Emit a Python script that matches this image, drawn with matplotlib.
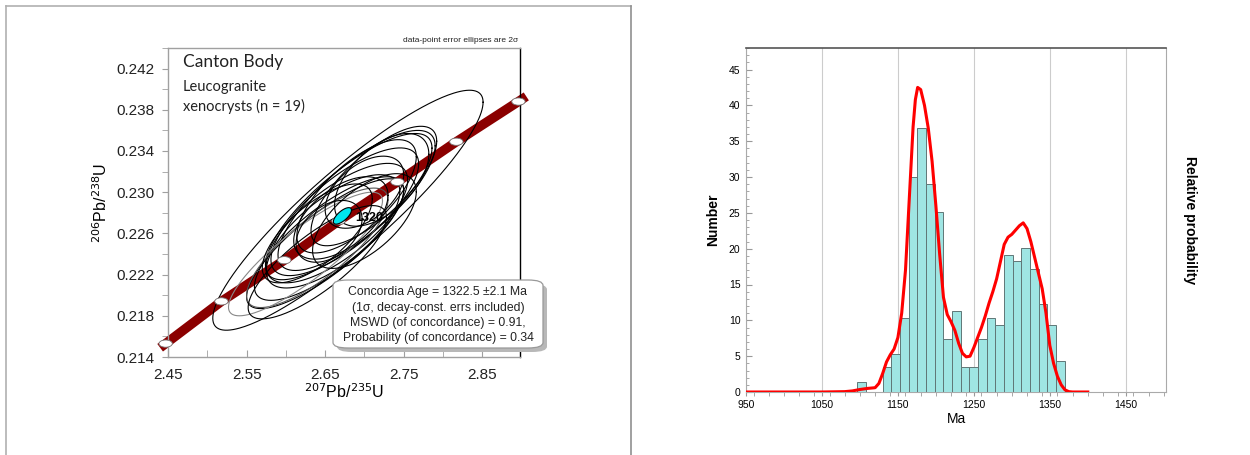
import numpy as np
import matplotlib
matplotlib.use("Agg")
import matplotlib.pyplot as plt
from matplotlib.patches import FancyBboxPatch, Ellipse
from matplotlib.ticker import MultipleLocator

# ---------------- data: concordia panel ----------------
conc_ages = [1260, 1280, 1300, 1320, 1340, 1360, 1380]
conc_x = [2.447, 2.518, 2.598, 2.667, 2.742, 2.817, 2.896]
conc_y = [0.2153, 0.2194, 0.2234, 0.2272, 0.2310, 0.2349, 0.2388]
band_x = [2.440, 2.447, 2.518, 2.598, 2.667, 2.742, 2.817, 2.896, 2.906]
band_y = [0.2149, 0.2153, 0.2194, 0.2234, 0.2272, 0.2310, 0.2349, 0.2388, 0.2393]

# error ellipses: centre x, centre y, 2-sigma half-extent x, y, correlation
ell_cx = [2.679, 2.690, 2.680, 2.675, 2.665, 2.660, 2.655, 2.650, 2.640, 2.625,
          2.670, 2.655, 2.700, 2.722, 2.690, 2.700, 2.640, 2.640, 2.712]
ell_cy = [0.22825, 0.2292, 0.2286, 0.2281, 0.2270, 0.2262, 0.2255, 0.2250, 0.2246, 0.2240,
          0.2275, 0.2262, 0.2300, 0.2312, 0.2296, 0.2272, 0.2260, 0.2232, 0.2306]
ell_sx = [0.172, 0.100, 0.106, 0.094, 0.090, 0.085, 0.095, 0.100, 0.090, 0.098,
          0.060, 0.042, 0.050, 0.060, 0.076, 0.066, 0.070, 0.088, 0.080]
ell_sy = [0.01165, 0.0068, 0.0071, 0.0062, 0.0058, 0.0055, 0.0060, 0.0063, 0.0058, 0.0060,
          0.0040, 0.0030, 0.0035, 0.0045, 0.0055, 0.0046, 0.0048, 0.0055, 0.0058]
ell_rho = [0.90, 0.78, 0.80, 0.75, 0.72, 0.70, 0.78, 0.82, 0.80, 0.86,
           0.55, 0.40, 0.48, 0.55, 0.70, 0.62, 0.70, 0.80, 0.75]
ell_color = ["black"] * 8 + ["#555555", "#888888"] + ["black"] * 9

mean_x, mean_y, mean_sx, mean_sy, mean_rho = 2.672, 0.2277, 0.0115, 0.00080, 0.70
mean_label = "1320"

# ---------------- data: histogram panel ----------------
bin_left = [1096.5, 1130.0, 1141.4, 1152.8, 1164.2, 1175.6, 1187.0, 1198.4, 1209.8,
            1221.2, 1232.6, 1244.0, 1255.4, 1266.8, 1278.2, 1289.6, 1301.0, 1312.4,
            1323.8, 1335.2, 1346.6, 1358.0]
bin_count = [1.4, 3.45, 5.35, 10.3, 30.0, 36.9, 29.0, 25.1, 7.35, 11.3, 3.45, 3.45,
             7.35, 10.3, 9.3, 19.1, 18.3, 20.1, 17.2, 12.3, 9.3, 4.3]
bin_width = 11.4

pdf_age = [950, 1000, 1050, 1080, 1090, 1100, 1110, 1120, 1125, 1130, 1135, 1140, 1145,
           1150, 1155, 1160, 1165, 1170, 1173, 1176, 1180, 1185, 1190, 1195, 1200,
           1205, 1210, 1215, 1220, 1225, 1230, 1235, 1240, 1245, 1250, 1255, 1260,
           1265, 1270, 1275, 1280, 1285, 1290, 1295, 1300, 1305, 1310, 1315, 1320,
           1325, 1330, 1335, 1340, 1345, 1350, 1355, 1360, 1365, 1370, 1375, 1380,
           1390, 1400]
pdf_val = [0.0, 0.0, 0.0, 0.05, 0.15, 0.35, 0.5, 0.6, 1.2, 2.6, 4.2, 5.2, 6.0,
           7.6, 11.0, 17.0, 27.0, 37.0, 40.8, 42.5, 42.2, 40.0, 36.8, 32.2, 26.0,
           19.2, 13.2, 10.8, 9.8, 8.6, 6.8, 5.4, 4.9, 5.0, 6.2, 7.6, 9.0,
           10.6, 12.4, 14.0, 15.8, 18.2, 20.6, 21.6, 22.0, 22.6, 23.2, 23.6, 22.8,
           21.0, 18.8, 16.6, 14.4, 11.0, 6.5, 4.0, 2.2, 1.0, 0.3, 0.05, 0.0,
           0.0, 0.0]

W, H = 1250, 455
fig = plt.figure(figsize=(W / 100, H / 100), dpi=100)
plt.rcParams['font.family'] = ['Liberation Sans', 'DejaVu Sans']

def fx(px):
    return px / W

def fy(py):
    return 1 - py / H

# left panel frame
fig.add_artist(plt.Line2D([fx(6), fx(631)], [fy(5.5), fy(5.5)], color="#b0b0b0", lw=1.2))
fig.add_artist(plt.Line2D([fx(6), fx(6)], [fy(5.5), fy(456)], color="#b0b0b0", lw=1.2))
fig.add_artist(plt.Line2D([fx(631), fx(631)], [fy(5.5), fy(456)], color="#909090", lw=1.2))

# ---------------- concordia axes ----------------
ax1 = fig.add_axes([fx(168), fy(357), fx(520) - fx(168), fy(48) - fy(357)])
ax1.set_xlim(2.45, 2.898)
ax1.set_ylim(0.214, 0.244)
for s in ["left", "bottom", "top"]:
    ax1.spines[s].set_color("#a0a0a0")
ax1.spines["right"].set_color("black")
for s in ax1.spines.values():
    s.set_linewidth(1.0)
ax1.set_xticks([2.45, 2.55, 2.65, 2.75, 2.85])
ax1.set_xticklabels(["2.45", "2.55", "2.65", "2.75", "2.85"])
ax1.xaxis.set_minor_locator(MultipleLocator(0.05))
ax1.set_yticks([0.214, 0.218, 0.222, 0.226, 0.230, 0.234, 0.238, 0.242])
ax1.set_yticklabels(["0.214", "0.218", "0.222", "0.226", "0.230", "0.234", "0.238", "0.242"])
ax1.yaxis.set_minor_locator(MultipleLocator(0.002))
ax1.tick_params(axis="both", which="both", direction="in", color="#a0a0a0", labelsize=11,
                labelcolor="#222222")
ax1.tick_params(axis="x", which="both", length=5, pad=8)
ax1.tick_params(axis="y", which="both", direction="out", length=4, pad=6)

# concordia band
ax1.plot(band_x, band_y, color="#8b0000", lw=6.8, solid_capstyle="butt", clip_on=False, zorder=2)

# error ellipses
t = np.linspace(0, 2 * np.pi, 300)
for cx, cy, sx, sy, r, c in zip(ell_cx, ell_cy, ell_sx, ell_sy, ell_rho, ell_color):
    ex = cx + sx * np.cos(t)
    ey = cy + sy * (r * np.cos(t) + np.sqrt(1 - r * r) * np.sin(t))
    ax1.plot(ex, ey, color=c, lw=0.8, zorder=3)

# age markers on concordia
for x, y in zip(conc_x, conc_y):
    ax1.add_patch(Ellipse((x, y), width=0.017, height=0.0007, facecolor="white",
                          edgecolor="#777777", lw=0.6, zorder=4, clip_on=False))

# mean concordia ellipse
mx = mean_x + mean_sx * np.cos(t)
my = mean_y + mean_sy * (mean_rho * np.cos(t) + np.sqrt(1 - mean_rho ** 2) * np.sin(t))
ax1.fill(mx, my, facecolor="#00e5ee", edgecolor="black", lw=0.8, zorder=5)
ax1.text(mean_x + 0.016, mean_y - 0.0002, mean_label, fontsize=9, fontweight="bold",
         va="center", ha="left", zorder=6)

ax1.set_xlabel("$^{207}$Pb/$^{235}$U", fontsize=11.5, labelpad=0)
ax1.set_ylabel("$^{206}$Pb/$^{238}$U", fontsize=11.5, labelpad=4)

fig.text(fx(518), fy(40), "data-point error ellipses are 2σ", fontsize=6, ha="right",
         va="center", color="#222222")
fig.text(fx(183), fy(62), "Canton Body", fontsize=12.5, family=["Lato", "DejaVu Sans"],
         ha="left", va="center", color="#222222")
fig.text(fx(183), fy(87), "Leucogranite", fontsize=10.5, family=["Lato", "DejaVu Sans"],
         ha="left", va="center", color="#222222")
fig.text(fx(183), fy(106), "xenocrysts (n = 19)", fontsize=10.5, family=["Lato", "DejaVu Sans"],
         ha="left", va="center", color="#222222")

# concordia age box with shadow
shadow = FancyBboxPatch((fx(337), fy(352)), fx(543) - fx(333), fy(280) - fy(348),
                        boxstyle="round,pad=0,rounding_size=0.012", transform=fig.transFigure,
                        facecolor="#b8b8b8", edgecolor="none", zorder=5)
fig.add_artist(shadow)
box = FancyBboxPatch((fx(333), fy(348)), fx(543) - fx(333), fy(280) - fy(348),
                     boxstyle="round,pad=0,rounding_size=0.012", transform=fig.transFigure,
                     facecolor="white", edgecolor="#999999", lw=0.9, zorder=6)
fig.add_artist(box)
box_lines = ["Concordia Age = 1322.5 ±2.1 Ma", "(1σ, decay-const. errs included)",
             "MSWD (of concordance) = 0.91,", "Probability (of concordance) = 0.34"]
for i, ln in enumerate(box_lines):
    fig.text(fx(438), fy(292 + 15.5 * i), ln, fontsize=8.8, ha="center", va="center",
             color="#222222", zorder=7)

# ---------------- histogram axes ----------------
ax2 = fig.add_axes([fx(746), fy(392), fx(1166) - fx(746), fy(48) - fy(392)])
ax2.set_xlim(950, 1503)
ax2.set_ylim(0, 48)
ax2.bar(bin_left, bin_count, width=bin_width, align="edge", facecolor="#9fe5e3",
        edgecolor="#5f7777", lw=0.7, zorder=3)
ax2.set_xticks([950, 1050, 1150, 1250, 1350, 1450])
ax2.xaxis.set_minor_locator(MultipleLocator(20))
ax2.set_yticks([0, 5, 10, 15, 20, 25, 30, 35, 40, 45])
ax2.yaxis.set_minor_locator(MultipleLocator(1))
ax2.grid(axis="x", which="major", color="#cccccc", lw=0.8, zorder=0)
ax2.tick_params(axis="x", which="both", direction="out", length=3, color="#999999",
                labelsize=7.5, pad=3)
ax2.tick_params(axis="y", which="major", direction="in", length=4, color="#999999",
                labelsize=7.5, pad=4)
ax2.tick_params(axis="y", which="minor", direction="in", length=2, color="#999999")
for s in ["left", "bottom", "right"]:
    ax2.spines[s].set_color("#aaaaaa")
ax2.spines["top"].set_color("#555555")
ax2.spines["top"].set_linewidth(1.2)
ax2.set_xlabel("Ma", fontsize=10, labelpad=1)
ax2.set_ylabel("Number", fontsize=10, fontweight="bold", labelpad=6)

ax3 = ax2.twinx()
ax3.set_ylim(0, 48)
ax3.plot(pdf_age, pdf_val, color="#ff0000", lw=2.2, zorder=4)
ax3.set_yticks([])
for s in ax3.spines.values():
    s.set_visible(False)
ax3.set_ylabel("Relative probability", fontsize=10, fontweight="bold", rotation=-90,
               labelpad=22)

fig.savefig("out.png", dpi=100)
